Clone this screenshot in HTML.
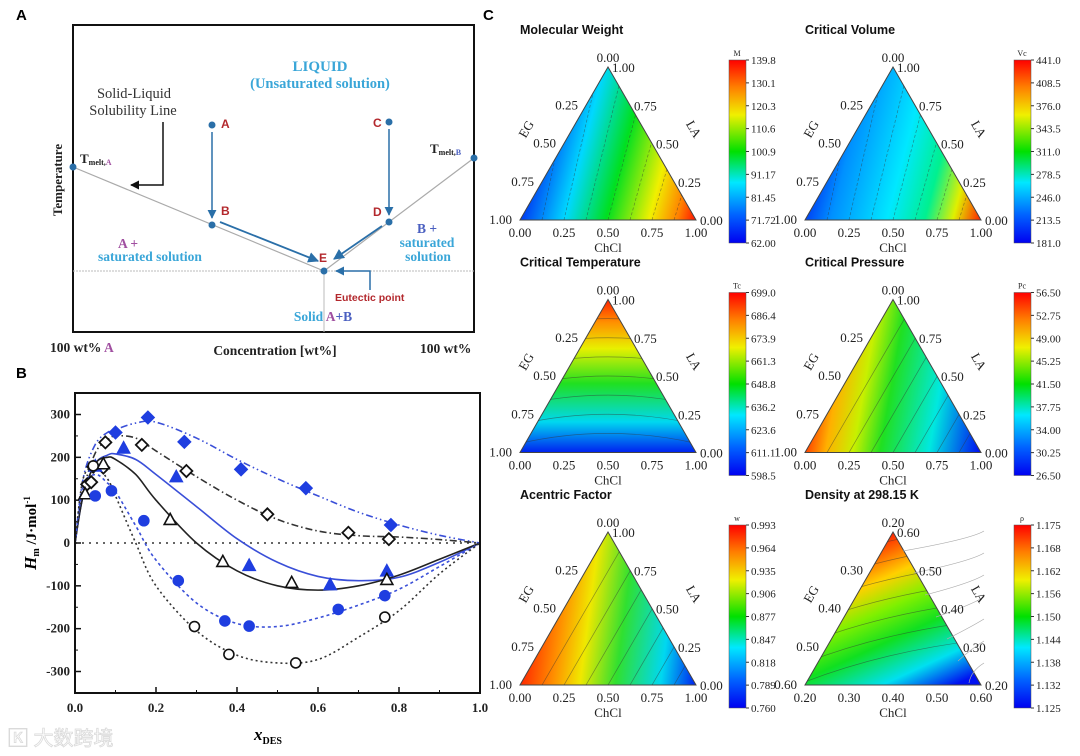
<!DOCTYPE html>
<html><head><meta charset="utf-8"><style>
html,body{margin:0;padding:0;background:#fff;width:1080px;height:756px;overflow:hidden}
svg{display:block}
.serif{font-family:"Liberation Serif","Noto Serif CJK SC",serif}
.sans{font-family:"Liberation Sans","Noto Sans CJK SC",sans-serif}
</style></head><body>
<svg id="fig" width="1080" height="756" viewBox="0 0 1080 756" xmlns="http://www.w3.org/2000/svg">
<defs>
<marker id="arrB" viewBox="0 0 10 10" refX="9" refY="5" markerWidth="6" markerHeight="6" orient="auto"><path d="M0,0L10,5L0,10z" fill="#2a6fa8"/></marker>
<marker id="arrK" viewBox="0 0 10 10" refX="9" refY="5" markerWidth="6" markerHeight="6" orient="auto"><path d="M0,0L10,5L0,10z" fill="#111"/></marker>
</defs>

<!-- PANEL A -->
<g id="panelA">
<text x="16" y="20" class="sans" font-weight="bold" font-size="15">A</text>
<rect x="73" y="25" width="401" height="307" fill="none" stroke="#111" stroke-width="2"/>
<line x1="73" y1="271" x2="474" y2="271" stroke="#bbb" stroke-dasharray="2,1"/>
<line x1="324" y1="271" x2="324" y2="332" stroke="#bbb"/>
<line x1="73" y1="167" x2="324" y2="271" stroke="#aaa" stroke-width="1.2"/>
<line x1="474" y1="158" x2="324" y2="271" stroke="#aaa" stroke-width="1.2"/>
<line x1="212" y1="132" x2="212" y2="218" stroke="#2a6fa8" stroke-width="1.5" marker-end="url(#arrB)"/>
<line x1="389" y1="129" x2="389" y2="215" stroke="#2a6fa8" stroke-width="1.5" marker-end="url(#arrB)"/>
<line x1="220" y1="222" x2="318" y2="261" stroke="#2a6fa8" stroke-width="1.8" marker-end="url(#arrB)"/>
<line x1="382" y1="226" x2="334" y2="259" stroke="#2a6fa8" stroke-width="1.8" marker-end="url(#arrB)"/>
<polyline points="370,290 370,271 336,271" fill="none" stroke="#2a6fa8" stroke-width="1.5" marker-end="url(#arrB)"/>
<polyline points="163,122 163,185 131,185" fill="none" stroke="#111" stroke-width="1.5" marker-end="url(#arrK)"/>
<g fill="#2a6fa8">
<circle cx="73" cy="167" r="3.5"/><circle cx="474" cy="158" r="3.5"/><circle cx="212" cy="125" r="3.5"/><circle cx="212" cy="225" r="3.5"/><circle cx="389" cy="122" r="3.5"/><circle cx="389" cy="222" r="3.5"/><circle cx="324" cy="271" r="3.5"/>
</g>
<g class="sans" font-weight="bold" font-size="12" fill="#b3282d">
<text x="221" y="128">A</text>
<text x="221" y="215">B</text>
<text x="373" y="127">C</text>
<text x="373" y="216">D</text>
<text x="319" y="262">E</text>
<text x="335" y="301" font-size="10.5">Eutectic point</text>
</g>
<g class="serif" font-weight="bold" fill="#3aa6d8" text-anchor="middle">
<text x="320" y="71" font-size="15">LIQUID</text>
<text x="320" y="88" font-size="14.5">(Unsaturated solution)</text>
<text x="128" y="248" font-size="13.5" fill="#a04fa0">A +</text>
<text x="150" y="261" font-size="13.5">saturated solution</text>
<text x="427" y="233" font-size="13.5" fill="#4a5fc0">B +</text>
<text x="427" y="247" font-size="13.5">saturated</text>
<text x="428" y="261" font-size="13.5">solution</text>
<text x="323" y="321" font-size="13.5">Solid <tspan fill="#a04fa0">A</tspan><tspan fill="#4a5fc0">+B</tspan></text>
</g>
<g class="serif" fill="#333" text-anchor="middle" font-size="14.5">
<text x="134" y="98">Solid-Liquid</text>
<text x="133" y="115">Solubility Line</text>
</g>
<g class="serif" font-weight="bold" fill="#222">
<text x="80" y="163" font-size="13">T<tspan font-size="8" dy="2">melt,</tspan><tspan font-size="8" fill="#a04fa0">A</tspan></text>
<text x="430" y="153" font-size="13">T<tspan font-size="8" dy="2">melt,</tspan><tspan font-size="8" fill="#4a5fc0">B</tspan></text>
<text x="62" y="180" font-size="13" transform="rotate(-90 62 180)" text-anchor="middle">Temperature</text>
<text x="50" y="352" font-size="13.5">100 wt% <tspan fill="#a04fa0">A</tspan></text>
<text x="275" y="355" font-size="13.5" text-anchor="middle">Concentration [wt%]</text>
<text x="420" y="353" font-size="13.5">100 wt%</text>
</g>
</g>

<!-- PANEL B -->
<g id="panelB">
<text x="16" y="378" class="sans" font-weight="bold" font-size="15">B</text>
<g id="bAxes"></g>
<g id="bCurves"></g>
<g id="bPoints"></g>
<rect x="75" y="393" width="405" height="300" fill="none" stroke="#111" stroke-width="2"/>
<text x="46" y="543" class="serif" font-weight="bold" font-style="italic" font-size="17" transform="rotate(-90 36 543)" text-anchor="middle">H<tspan font-size="10" font-style="normal" dy="3">m</tspan><tspan font-style="normal" font-size="15" dy="-3"> /J·mol</tspan><tspan font-size="9" font-style="normal" dy="-6">-1</tspan></text>
<text x="268" y="740" class="serif" font-weight="bold" font-style="italic" font-size="17" text-anchor="middle">x<tspan font-size="10" font-style="normal" dy="4">DES</tspan></text>
</g>

<!-- PANEL C -->
<text x="483" y="20" class="sans" font-weight="bold" font-size="15">C</text>
<g id="panelC"></g>

<text x="8" y="745" class="sans" font-size="20" fill="#fff" stroke="#dadada" stroke-width="0.8">🄺 大数跨境</text>
</svg>
<script>
const NS='http://www.w3.org/2000/svg';
function el(tag,attrs,parent){const e=document.createElementNS(NS,tag);for(const k in attrs)e.setAttribute(k,attrs[k]);if(parent)parent.appendChild(e);return e;}

/* ---------- Panel B data ---------- */
const xTicks=[0,0.2,0.4,0.6,0.8,1.0];
const xTickLabels=['0.0','0.2','0.4','0.6','0.8','1.0'];
const yTicks=[-300,-200,-100,0,100,200,300];
const yTickLabels=['-300','-200','-100','0','100','200','300'];
const blueDiamondX=[0.10,0.18,0.27,0.41,0.57,0.78];
const blueDiamondY=[258,293,236,172,128,42];
const blackDiamondX=[0.03,0.04,0.045,0.07,0.075,0.165,0.275,0.475,0.675,0.775];
const blackDiamondY=[137,142,178,176,235,229,168,67,24,9];
const blueTriX=[0.05,0.12,0.25,0.43,0.63,0.77];
const blueTriY=[180,222,155,-52,-97,-65];
const blackTriX=[0.025,0.07,0.235,0.365,0.535,0.77];
const blackTriY=[115,185,55,-43,-92,-85];
const blueCircX=[0.05,0.09,0.17,0.255,0.37,0.43,0.65,0.765];
const blueCircY=[110,122,52,-88,-182,-194,-155,-123];
const blackCircX=[0.045,0.295,0.38,0.545,0.765];
const blackCircY=[180,-195,-260,-280,-173];
const fitX=[0,0.02,0.05,0.08,0.1,0.15,0.2,0.3,0.4,0.5,0.6,0.7,0.8,0.9,1.0];
const fitBlueDiamond=[0,150,230,258,265,280,282,245,195,150,110,72,42,18,0];
const fitBlackDiamond=[0,120,210,240,250,245,215,155,100,55,28,17,14,8,0];
const fitBlueTri=[0,110,185,205,208,195,160,85,10,-45,-78,-88,-80,-45,0];
const fitBlackTri=[0,110,185,200,195,160,100,0,-65,-100,-110,-100,-75,-38,0];
const fitBlueCirc=[0,130,160,140,120,40,-40,-140,-188,-195,-175,-145,-108,-55,0];
const fitBlackCirc=[0,150,175,150,110,0,-100,-205,-262,-280,-272,-220,-158,-72,0];

const xS=v=>75+v*405;
const yS=v=>543-v*(128.5/300);

const ax=document.getElementById('bAxes');
const zl=el('line',{x1:xS(0),x2:xS(1),y1:yS(0),y2:yS(0),stroke:'#333','stroke-width':1.5,'stroke-dasharray':'2,5'},ax);


xTicks.forEach((t,i)=>{
  const tk=el('line',{x1:xS(t),x2:xS(t),y1:693,y2:687,stroke:'#111','stroke-width':1.5},ax);
  
  
  if(i<xTicks.length-1){const m=el('line',{x1:xS(t+0.1),x2:xS(t+0.1),y1:693,y2:690,stroke:'#111'},ax);
  
  }
  const lb=el('text',{x:xS(t),y:712,'text-anchor':'middle',class:'serif','font-weight':'bold','font-size':13,fill:'#222'},ax);
  lb.textContent=xTickLabels[i];
  
  
});
yTicks.forEach((t,i)=>{
  const tk=el('line',{x1:75,x2:81,y1:yS(t),y2:yS(t),stroke:'#111','stroke-width':1.5},ax);
  
  
  if(i<yTicks.length-1){const m=el('line',{x1:75,x2:78,y1:yS(t+50),y2:yS(t+50),stroke:'#111'},ax);
  
  }
  const lb=el('text',{x:70,y:yS(t)+4,'text-anchor':'end',class:'serif','font-weight':'bold','font-size':13,fill:'#222'},ax);
  lb.textContent=yTickLabels[i];
  
  
});
function smoothPath(xs,ys){
  const p=xs.map((x,i)=>[xS(x),yS(ys[i])]);
  let d='M'+p[0][0]+','+p[0][1];
  for(let i=0;i<p.length-1;i++){
    const p0=p[Math.max(0,i-1)],p1=p[i],p2=p[i+1],p3=p[Math.min(p.length-1,i+2)];
    const c1=[p1[0]+(p2[0]-p0[0])/6,p1[1]+(p2[1]-p0[1])/6];
    const c2=[p2[0]-(p3[0]-p1[0])/6,p2[1]-(p3[1]-p1[1])/6];
    d+=' C'+c1[0]+','+c1[1]+' '+c2[0]+','+c2[1]+' '+p2[0]+','+p2[1];
  }
  return d;
}
const cv=document.getElementById('bCurves');
const curveDefs=[
 [fitBlueDiamond,'#3a4fd8','7,3,1.5,3,1.5,3','fit-curve-blue-diamond'],
 [fitBlackDiamond,'#333','7,3,1.5,3','fit-curve-black-diamond'],
 [fitBlueTri,'#3a4fd8','','fit-curve-blue-triangle'],
 [fitBlackTri,'#222','','fit-curve-black-triangle'],
 [fitBlueCirc,'#3a4fd8','3,3','fit-curve-blue-circle'],
 [fitBlackCirc,'#333','2,3','fit-curve-black-circle']];
curveDefs.forEach(c=>{
  const p=el('path',{d:smoothPath(fitX,c[0]),fill:'none',stroke:c[1],'stroke-width':1.6,'stroke-dasharray':c[2]},cv);
  
  
});
const pg=document.getElementById('bPoints');
function marker(shape,x,y,fill,stroke,name){
  const cx=xS(x),cy=yS(y);let e;
  if(shape==='d')e=el('polygon',{points:`${cx},${cy-6} ${cx+6},${cy} ${cx},${cy+6} ${cx-6},${cy}`,fill,stroke,'stroke-width':1.8},pg);
  else if(shape==='t')e=el('polygon',{points:`${cx},${cy-6} ${cx+6},${cy+5} ${cx-6},${cy+5}`,fill,stroke,'stroke-width':1.6},pg);
  else e=el('circle',{cx,cy,r:5,fill,stroke,'stroke-width':1.6},pg);
  
  
}
blueDiamondX.forEach((x,i)=>marker('d',x,blueDiamondY[i],'#1f3ee0','#1f3ee0','point-blue-diamond'));
blackDiamondX.forEach((x,i)=>marker('d',x,blackDiamondY[i],'#fff','#111','point-black-diamond'));
blueTriX.forEach((x,i)=>marker('t',x,blueTriY[i],'#1f3ee0','#1f3ee0','point-blue-triangle'));
blackTriX.forEach((x,i)=>marker('t',x,blackTriY[i],'#fff','#111','point-black-triangle'));
blueCircX.forEach((x,i)=>marker('c',x,blueCircY[i],'#1f3ee0','#1f3ee0','point-blue-circle'));
blackCircX.forEach((x,i)=>marker('c',x,blackCircY[i],'#fff','#111','point-black-circle'));

/* ---------- Panel C data ---------- */
const ternTitles=['Molecular Weight','Critical Volume','Critical Temperature','Critical Pressure','Acentric Factor','Density at 298.15 K'];
const cbarTitles=['M','Vc','Tc','Pc','w','ρ'];
const cbarLabels=[
 ['139.8','130.1','120.3','110.6','100.9','91.17','81.45','71.72','62.00'],
 ['441.0','408.5','376.0','343.5','311.0','278.5','246.0','213.5','181.0'],
 ['699.0','686.4','673.9','661.3','648.8','636.2','623.6','611.1','598.5'],
 ['56.50','52.75','49.00','45.25','41.50','37.75','34.00','30.25','26.50'],
 ['0.993','0.964','0.935','0.906','0.877','0.847','0.818','0.789','0.760'],
 ['1.175','1.168','1.162','1.156','1.150','1.144','1.138','1.132','1.125']];
const axisTicksStd=['0.00','0.25','0.50','0.75','1.00'];
const axisTicksDen=['0.20','0.30','0.40','0.50','0.60'];
const fieldStops=[
 [[0,'#0010f0'],[0.3,'#00d8ff'],[0.52,'#00e020'],[0.75,'#f0f000'],[0.9,'#ff8000'],[1,'#ff1000']],
 [[0,'#0020f0'],[0.2,'#0090ff'],[0.5,'#00e8ff'],[0.7,'#00f090'],[0.85,'#e0f000'],[1,'#ff2000']],
 [[0,'#ff2000'],[0.15,'#ff9000'],[0.32,'#e8f000'],[0.55,'#20e020'],[0.8,'#00d8f0'],[1,'#0020f0']],
 [[0,'#ff2000'],[0.15,'#ffb000'],[0.3,'#c8f000'],[0.45,'#20e020'],[0.72,'#00e8e0'],[1,'#0010f0']],
 [[0,'#ff2000'],[0.2,'#ff9000'],[0.35,'#f0e800'],[0.55,'#30e030'],[0.8,'#00d8f0'],[1,'#0020f0']],
 [[0,'#ff1000'],[0.25,'#ffd000'],[0.42,'#80f000'],[0.6,'#10e020'],[0.82,'#00e0f0'],[1,'#0010f0']]];
const fieldDir=[[0,0.7,1,1],[0,0.7,1,1],[0.5,0,0.5,1],[0,0.75,1,0.95],[0,0.85,1,1],[0.45,0,0.85,1]];

const pc=document.getElementById('panelC');
const defs=document.querySelector('defs');
const jet=el('linearGradient',{id:'jet',x1:0,y1:1,x2:0,y2:0},defs);
[[0,'#0000f0'],[0.15,'#0060ff'],[0.33,'#00e8ff'],[0.5,'#00e000'],[0.7,'#f0f000'],[0.85,'#ff8000'],[1,'#ff0000']].forEach(s=>el('stop',{offset:s[0],'stop-color':s[1]},jet));

for(let k=0;k<6;k++){
  const col=k%2,row=Math.floor(k/2);
  const x0=520+col*285, yb=220+row*232.5;
  const W=176,H=153, ax_=x0+W/2, ay=yb-H;
  const g=el('g',{},pc);
  
  
  const gid='fld'+k,d=fieldDir[k];
  const lg=el('linearGradient',{id:gid,gradientUnits:'userSpaceOnUse',x1:x0+d[0]*W,y1:ay+d[1]*H,x2:x0+d[2]*W,y2:ay+d[3]*H},defs);
  fieldStops[k].forEach(s=>el('stop',{offset:s[0],'stop-color':s[1]},lg));
  const cp=el('clipPath',{id:'clip'+k},defs);
  el('polygon',{points:`${x0},${yb} ${x0+W},${yb} ${ax_},${ay}`},cp);
  const tri=el('polygon',{points:`${x0},${yb} ${x0+W},${yb} ${ax_},${ay}`,fill:`url(#${gid})`,stroke:'#444','stroke-width':1},g);
  
  
  const cg=el('g',{'clip-path':`url(#clip${k})`,fill:'none',stroke:'#333','stroke-opacity':0.5,'stroke-width':0.7,'stroke-dasharray':k<2?'3,2':''},g);
  
  
  for(let j=1;j<8;j++){
    const f=j/8;let dd;
    if(k===0||k===1) dd=`M${x0+f*W},${yb} L${x0+f*W+30+f*20},${ay}`;
    else if(k===2) dd=`M${x0-20},${ay+f*H+15} Q${ax_},${ay+f*H-15} ${x0+W+20},${ay+f*H+15}`;
    else if(k===3||k===4) dd=`M${x0+f*W},${yb} L${x0+f*W+H*0.58},${ay}`;
    else dd=`M${x0-10},${ay+f*H+20} Q${ax_},${ay+f*H-20} ${x0+W+40},${ay+f*H-30}`;
    el('path',{d:dd},cg);
  }
  if(k===5){
    const og=el('g',{fill:'none',stroke:'#aaa','stroke-width':0.7},g);
    
    
    for(let j=0;j<7;j++){const yy=ay+5+j*22;el('path',{d:`M${ax_+10+j*11},${yy+14} Q${x0+W-10},${yy+2} ${x0+W+3},${yy-6}`},og);}
  }
  const ticks=k===5?axisTicksDen:axisTicksStd;
  const ts={class:'serif','font-size':13,fill:'#222'};
  for(let i=0;i<5;i++){
    const f=i/4;
    let t=el('text',Object.assign({x:x0+f*W,y:yb+17,'text-anchor':'middle'},ts),g);t.textContent=ticks[i];
    
    
    const lx=ax_-f*W/2, ly=ay+f*H;
    t=el('text',Object.assign({x:i===0?lx:lx-8,y:i===0?ly-5:ly+4,'text-anchor':i===0?'middle':'end'},ts),g);t.textContent=ticks[i];
    
    
    const rx=ax_+f*W/2, ry=ay+f*H;
    t=el('text',Object.assign({x:rx+4,y:ry+5,'text-anchor':'start'},ts),g);t.textContent=ticks[4-i];
    
    
  }
  let t=el('text',{x:x0+W/2,y:yb+32,'text-anchor':'middle',class:'serif','font-size':13,fill:'#222'},g);t.textContent='ChCl';
  
  
  const egx=x0+10,egy=ay+H*0.42;
  t=el('text',{x:egx,y:egy,'text-anchor':'middle',class:'serif','font-size':13,fill:'#222',transform:`rotate(-60 ${egx} ${egy})`},g);t.textContent='EG';
  
  
  const lax=x0+W-6,lay=ay+H*0.42;
  t=el('text',{x:lax,y:lay,'text-anchor':'middle',class:'serif','font-size':13,fill:'#222',transform:`rotate(60 ${lax} ${lay})`},g);t.textContent='LA';
  
  
  t=el('text',{x:x0,y:ay-33,class:'sans','font-weight':'bold','font-size':12.5,fill:'#111'},g);t.textContent=ternTitles[k];
  
  
  const cx=x0+209, ct=ay-7, ch=183;
  const cb=el('rect',{x:cx,y:ct,width:17,height:ch,fill:'url(#jet)',stroke:'#555','stroke-width':0.5},g);
  
  
  t=el('text',{x:cx+8,y:ct-4,'text-anchor':'middle',class:'serif','font-size':8,fill:'#222'},g);t.textContent=cbarTitles[k];
  
  
  cbarLabels[k].forEach((lbl,i)=>{
    const yy=ct+i*ch/8;
    el('line',{x1:cx+17,x2:cx+20,y1:yy,y2:yy,stroke:'#333'},g);
    const tt=el('text',{x:cx+22,y:yy+4,class:'serif','font-size':11,fill:'#222'},g);tt.textContent=lbl;
    
    
  });
}
</script>
</body></html>
